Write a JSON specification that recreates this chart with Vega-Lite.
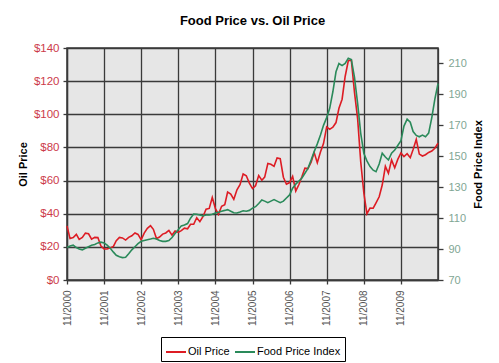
{
  "$schema": "https://vega.github.io/schema/vega-lite/v6.json",
  "width": 371,
  "height": 232,
  "autosize": {"type": "none"},
  "padding": {"left": 67, "top": 48, "right": 61, "bottom": 83},
  "background": "white",
  "title": {"text": "Food Price vs. Oil Price", "fontSize": 13, "font": "Liberation Sans", "fontWeight": "bold", "color": "black", "offset": 14, "anchor": "middle", "frame": "group"},
  "data": {"values": [
    {"t": "2000/11/01", "oil": 32.7, "food": 91},
    {"t": "2000/12/01", "oil": 25.0, "food": 92},
    {"t": "2001/01/01", "oil": 25.6, "food": 92.5},
    {"t": "2001/02/01", "oil": 27.5, "food": 91},
    {"t": "2001/03/01", "oil": 24.5, "food": 90},
    {"t": "2001/04/01", "oil": 25.7, "food": 89.5},
    {"t": "2001/05/01", "oil": 28.3, "food": 90.5},
    {"t": "2001/06/01", "oil": 27.9, "food": 91.5},
    {"t": "2001/07/01", "oil": 24.6, "food": 92.5},
    {"t": "2001/08/01", "oil": 25.7, "food": 93},
    {"t": "2001/09/01", "oil": 25.6, "food": 94},
    {"t": "2001/10/01", "oil": 20.5, "food": 94.5},
    {"t": "2001/11/01", "oil": 18.8, "food": 94},
    {"t": "2001/12/01", "oil": 18.7, "food": 92.5},
    {"t": "2002/01/01", "oil": 19.4, "food": 90.5},
    {"t": "2002/02/01", "oil": 20.3, "food": 88},
    {"t": "2002/03/01", "oil": 23.7, "food": 86},
    {"t": "2002/04/01", "oil": 25.7, "food": 85},
    {"t": "2002/05/01", "oil": 25.4, "food": 84.5},
    {"t": "2002/06/01", "oil": 24.1, "food": 84.7},
    {"t": "2002/07/01", "oil": 25.7, "food": 87},
    {"t": "2002/08/01", "oil": 26.7, "food": 89.5},
    {"t": "2002/09/01", "oil": 28.4, "food": 91.5},
    {"t": "2002/10/01", "oil": 27.5, "food": 93.5},
    {"t": "2002/11/01", "oil": 24.3, "food": 95},
    {"t": "2002/12/01", "oil": 28.3, "food": 95.5},
    {"t": "2003/01/01", "oil": 31.2, "food": 96},
    {"t": "2003/02/01", "oil": 32.8, "food": 96.5},
    {"t": "2003/03/01", "oil": 30.6, "food": 97},
    {"t": "2003/04/01", "oil": 25.0, "food": 96.5},
    {"t": "2003/05/01", "oil": 25.9, "food": 95.5},
    {"t": "2003/06/01", "oil": 27.7, "food": 95},
    {"t": "2003/07/01", "oil": 28.4, "food": 95},
    {"t": "2003/08/01", "oil": 29.9, "food": 95.5},
    {"t": "2003/09/01", "oil": 27.1, "food": 97.5},
    {"t": "2003/10/01", "oil": 29.6, "food": 100},
    {"t": "2003/11/01", "oil": 28.8, "food": 102.5},
    {"t": "2003/12/01", "oil": 29.8, "food": 105},
    {"t": "2004/01/01", "oil": 31.3, "food": 105.5},
    {"t": "2004/02/01", "oil": 30.9, "food": 106.5},
    {"t": "2004/03/01", "oil": 33.6, "food": 110},
    {"t": "2004/04/01", "oil": 33.6, "food": 112.6},
    {"t": "2004/05/01", "oil": 37.6, "food": 112.5},
    {"t": "2004/06/01", "oil": 35.2, "food": 112},
    {"t": "2004/07/01", "oil": 38.2, "food": 111.5},
    {"t": "2004/08/01", "oil": 42.7, "food": 112},
    {"t": "2004/09/01", "oil": 43.2, "food": 112},
    {"t": "2004/10/01", "oil": 49.8, "food": 112.5},
    {"t": "2004/11/01", "oil": 43.1, "food": 113.3},
    {"t": "2004/12/01", "oil": 39.6, "food": 113.8},
    {"t": "2005/01/01", "oil": 44.5, "food": 114.5},
    {"t": "2005/02/01", "oil": 45.5, "food": 115},
    {"t": "2005/03/01", "oil": 53.1, "food": 115.5},
    {"t": "2005/04/01", "oil": 51.9, "food": 114.5},
    {"t": "2005/05/01", "oil": 48.7, "food": 113.5},
    {"t": "2005/06/01", "oil": 54.4, "food": 113.3},
    {"t": "2005/07/01", "oil": 57.5, "food": 114},
    {"t": "2005/08/01", "oil": 64.0, "food": 114.8},
    {"t": "2005/09/01", "oil": 62.9, "food": 114.5},
    {"t": "2005/10/01", "oil": 58.5, "food": 115},
    {"t": "2005/11/01", "oil": 55.2, "food": 116.5},
    {"t": "2005/12/01", "oil": 56.9, "food": 117.4},
    {"t": "2006/01/01", "oil": 63.0, "food": 119.5},
    {"t": "2006/02/01", "oil": 60.2, "food": 121.7},
    {"t": "2006/03/01", "oil": 62.1, "food": 121},
    {"t": "2006/04/01", "oil": 70.3, "food": 120},
    {"t": "2006/05/01", "oil": 69.8, "food": 121},
    {"t": "2006/06/01", "oil": 68.6, "food": 122},
    {"t": "2006/07/01", "oil": 73.7, "food": 121},
    {"t": "2006/08/01", "oil": 73.2, "food": 120},
    {"t": "2006/09/01", "oil": 62.0, "food": 121},
    {"t": "2006/10/01", "oil": 57.8, "food": 123},
    {"t": "2006/11/01", "oil": 58.8, "food": 125},
    {"t": "2006/12/01", "oil": 62.5, "food": 129.3},
    {"t": "2007/01/01", "oil": 53.7, "food": 132},
    {"t": "2007/02/01", "oil": 57.6, "food": 134},
    {"t": "2007/03/01", "oil": 62.1, "food": 135.8},
    {"t": "2007/04/01", "oil": 67.5, "food": 139},
    {"t": "2007/05/01", "oil": 67.2, "food": 142.2},
    {"t": "2007/06/01", "oil": 71.1, "food": 147.5},
    {"t": "2007/07/01", "oil": 76.9, "food": 153},
    {"t": "2007/08/01", "oil": 70.8, "food": 158},
    {"t": "2007/09/01", "oil": 77.2, "food": 163.7},
    {"t": "2007/10/01", "oil": 82.3, "food": 170},
    {"t": "2007/11/01", "oil": 92.4, "food": 175},
    {"t": "2007/12/01", "oil": 90.9, "food": 181},
    {"t": "2008/01/01", "oil": 92.2, "food": 191.7},
    {"t": "2008/02/01", "oil": 95.0, "food": 204.6},
    {"t": "2008/03/01", "oil": 103.6, "food": 210},
    {"t": "2008/04/01", "oil": 109.1, "food": 208.6},
    {"t": "2008/05/01", "oil": 122.8, "food": 210},
    {"t": "2008/06/01", "oil": 132.3, "food": 213.3},
    {"t": "2008/07/01", "oil": 132.7, "food": 212.5},
    {"t": "2008/08/01", "oil": 113.2, "food": 201},
    {"t": "2008/09/01", "oil": 97.2, "food": 184},
    {"t": "2008/10/01", "oil": 71.6, "food": 165},
    {"t": "2008/11/01", "oil": 52.5, "food": 152},
    {"t": "2008/12/01", "oil": 40.0, "food": 147},
    {"t": "2009/01/01", "oil": 43.4, "food": 143.3},
    {"t": "2009/02/01", "oil": 43.3, "food": 141},
    {"t": "2009/03/01", "oil": 46.5, "food": 140},
    {"t": "2009/04/01", "oil": 50.2, "food": 145},
    {"t": "2009/05/01", "oil": 57.3, "food": 152},
    {"t": "2009/06/01", "oil": 68.6, "food": 149.5},
    {"t": "2009/07/01", "oil": 64.4, "food": 147.6},
    {"t": "2009/08/01", "oil": 72.5, "food": 152},
    {"t": "2009/09/01", "oil": 67.7, "food": 154},
    {"t": "2009/10/01", "oil": 72.8, "food": 157},
    {"t": "2009/11/01", "oil": 76.7, "food": 160},
    {"t": "2009/12/01", "oil": 74.5, "food": 169.5},
    {"t": "2010/01/01", "oil": 76.2, "food": 174},
    {"t": "2010/02/01", "oil": 73.8, "food": 172},
    {"t": "2010/03/01", "oil": 78.8, "food": 166},
    {"t": "2010/04/01", "oil": 84.8, "food": 163.5},
    {"t": "2010/05/01", "oil": 76.0, "food": 162.6},
    {"t": "2010/06/01", "oil": 74.8, "food": 163.7},
    {"t": "2010/07/01", "oil": 75.6, "food": 162.6},
    {"t": "2010/08/01", "oil": 77.0, "food": 165},
    {"t": "2010/09/01", "oil": 77.8, "food": 175},
    {"t": "2010/10/01", "oil": 79.5, "food": 187},
    {"t": "2010/11/01", "oil": 82.5, "food": 197}
  ]},
  "encoding": {
    "x": {
      "field": "t", "type": "temporal",
      "scale": {"domain": [{"year": 2000, "month": 11, "date": 1}, {"year": 2010, "month": 11, "date": 1}], "nice": false},
      "axis": {
        "values": [
          {"year": 2000, "month": 11, "date": 1}, {"year": 2001, "month": 11, "date": 1},
          {"year": 2002, "month": 11, "date": 1}, {"year": 2003, "month": 11, "date": 1},
          {"year": 2004, "month": 11, "date": 1}, {"year": 2005, "month": 11, "date": 1},
          {"year": 2006, "month": 11, "date": 1}, {"year": 2007, "month": 11, "date": 1},
          {"year": 2008, "month": 11, "date": 1}, {"year": 2009, "month": 11, "date": 1}
        ],
        "format": "%m/%Y", "labelAngle": 270, "labelColor": "#555555", "labelFontSize": 10,
        "labelPadding": 6, "title": null, "grid": true, "labelFlush": false, "labelOverlap": false
      }
    }
  },
  "layer": [
    {
      "mark": {"type": "line", "strokeWidth": 1.6},
      "encoding": {
        "y": {
          "field": "oil", "type": "quantitative",
          "scale": {"domain": [0, 140], "nice": false},
          "axis": {
            "orient": "left", "values": [0, 20, 40, 60, 80, 100, 120, 140], "format": "$.0f",
            "labelColor": "#cc3b4a", "labelFontSize": 11.5, "labelPadding": 4,
            "title": "Oil Price", "titleFontSize": 11, "titleFontWeight": "bold", "titleColor": "black",
            "titlePadding": 5, "grid": true
          }
        },
        "color": {
          "datum": "Oil Price", "type": "nominal",
          "scale": {"domain": ["Oil Price", "Food Price Index"], "range": ["#dd1c24", "#2a8a5a"]},
          "legend": {
            "orient": "none", "legendX": 94, "legendY": 289, "direction": "horizontal", "title": null,
            "symbolType": "stroke", "symbolSize": 400, "symbolStrokeWidth": 2,
            "labelFontSize": 11, "labelColor": "black", "labelFont": "Liberation Sans",
            "strokeColor": "black", "fillColor": "white", "padding": 4, "columnPadding": 1, "labelOffset": 1
          }
        }
      }
    },
    {
      "mark": {"type": "line", "strokeWidth": 1.6},
      "encoding": {
        "y": {
          "field": "food", "type": "quantitative",
          "scale": {"domain": [70, 220], "nice": false},
          "axis": {
            "orient": "right", "values": [70, 90, 110, 130, 150, 170, 190, 210],
            "labelColor": "#7fa694", "labelFontSize": 11, "labelPadding": 5, "tickSize": 5,
            "title": "Food Price Index", "titleAngle": 270, "titleBaseline": "top", "titleFontSize": 11, "titleFontWeight": "bold",
            "titleColor": "black", "titlePadding": 6, "grid": false
          }
        },
        "color": {"datum": "Food Price Index", "type": "nominal"}
      }
    }
  ],
  "resolve": {"scale": {"y": "independent"}},
  "config": {
    "font": "Liberation Sans",
    "view": {"fill": "#e6e6e6", "stroke": "#3a3a3a", "strokeWidth": 1.5},
    "axis": {
      "gridColor": "#3a3a3a", "gridWidth": 1.3, "gridOpacity": 1,
      "domainColor": "#3a3a3a", "domainWidth": 1.3,
      "tickColor": "#3a3a3a", "tickWidth": 1.3, "tickSize": 4,
      "titleFont": "Liberation Sans", "labelFont": "Liberation Sans"
    }
  }
}
